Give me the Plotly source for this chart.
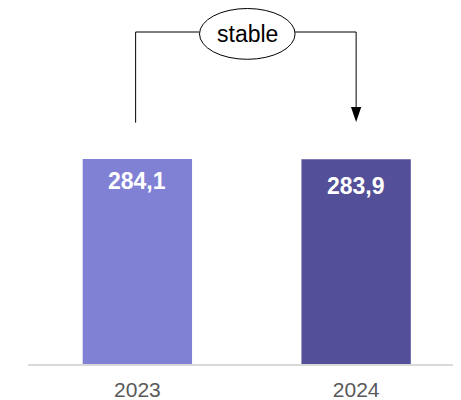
import plotly.graph_objects as go

categories = ["2023", "2024"]
values = [284.1, 283.9]
colors = ["#8080D4", "#534F98"]
labels = [f"{v:.1f}".replace(".", ",") for v in values]
note = "stable"

PLOT_H = 356
R = max(values) * PLOT_H / 205.0
pxu = R / PLOT_H  # data units per pixel

def py(fy):
    """figure pixel row -> data y"""
    return (PLOT_H - fy) * pxu

fig = go.Figure(go.Bar(
    x=categories, y=values, width=0.5,
    marker=dict(color=colors, line=dict(width=0)),
    hoverinfo="skip",
))

label_shift = [-22, -27]
annotations = []
for i, (c, v, t) in enumerate(zip(categories, values, labels)):
    annotations.append(dict(
        x=i, y=v, xref="x", yref="y", text="<b>" + t + "</b>", showarrow=False,
        yanchor="middle", yshift=label_shift[i],
        font=dict(size=23, color="#FFFFFF", family="Liberation Sans, Arial")))

ex0, ex1 = 0.284, 0.721
line = dict(color="black", width=1)
y_top = py(24)
shapes = [
    dict(type="line", xref="x", yref="y", x0=-0.008, x1=-0.008, y0=py(114.7), y1=y_top, line=line),
    dict(type="line", xref="x", yref="y", x0=-0.008, x1=ex0, y0=y_top, y1=y_top, line=line),
    dict(type="line", xref="x", yref="y", x0=ex1, x1=1, y0=y_top, y1=y_top, line=line),
    dict(type="line", xref="x", yref="y", x0=1, x1=1, y0=y_top, y1=py(100), line=line),
    dict(type="path", xref="x", yref="y",
         path=f"M {1-0.0235} {py(99)} L {1+0.0235} {py(99)} L 1 {py(114)} Z",
         fillcolor="black", line=dict(width=0)),
    dict(type="circle", xref="x", yref="y", x0=ex0, x1=ex1, y0=py(51.3), y1=py(0.5),
         line=line, fillcolor="white"),
]
annotations.append(dict(x=0.505, y=py(26), xref="x", yref="y", text=note, showarrow=False,
                        yanchor="middle",
                        font=dict(size=23, color="black", family="Liberation Sans, Arial")))

fig.update_layout(
    width=461, height=400,
    margin=dict(l=20, r=0, t=0, b=400 - PLOT_H),
    plot_bgcolor="white", paper_bgcolor="white",
    showlegend=False,
    shapes=shapes,
    annotations=annotations,
    xaxis=dict(range=[-0.5, 1.516], showline=True, linecolor="#D9D9D9", linewidth=2,
               tickfont=dict(size=21, color="#595959", family="Liberation Sans, Arial"),
               ticks="", ticklabelstandoff=6, showgrid=False),
    yaxis=dict(range=[0, R], visible=False, showgrid=False),
)
fig.write_html("out.html")
